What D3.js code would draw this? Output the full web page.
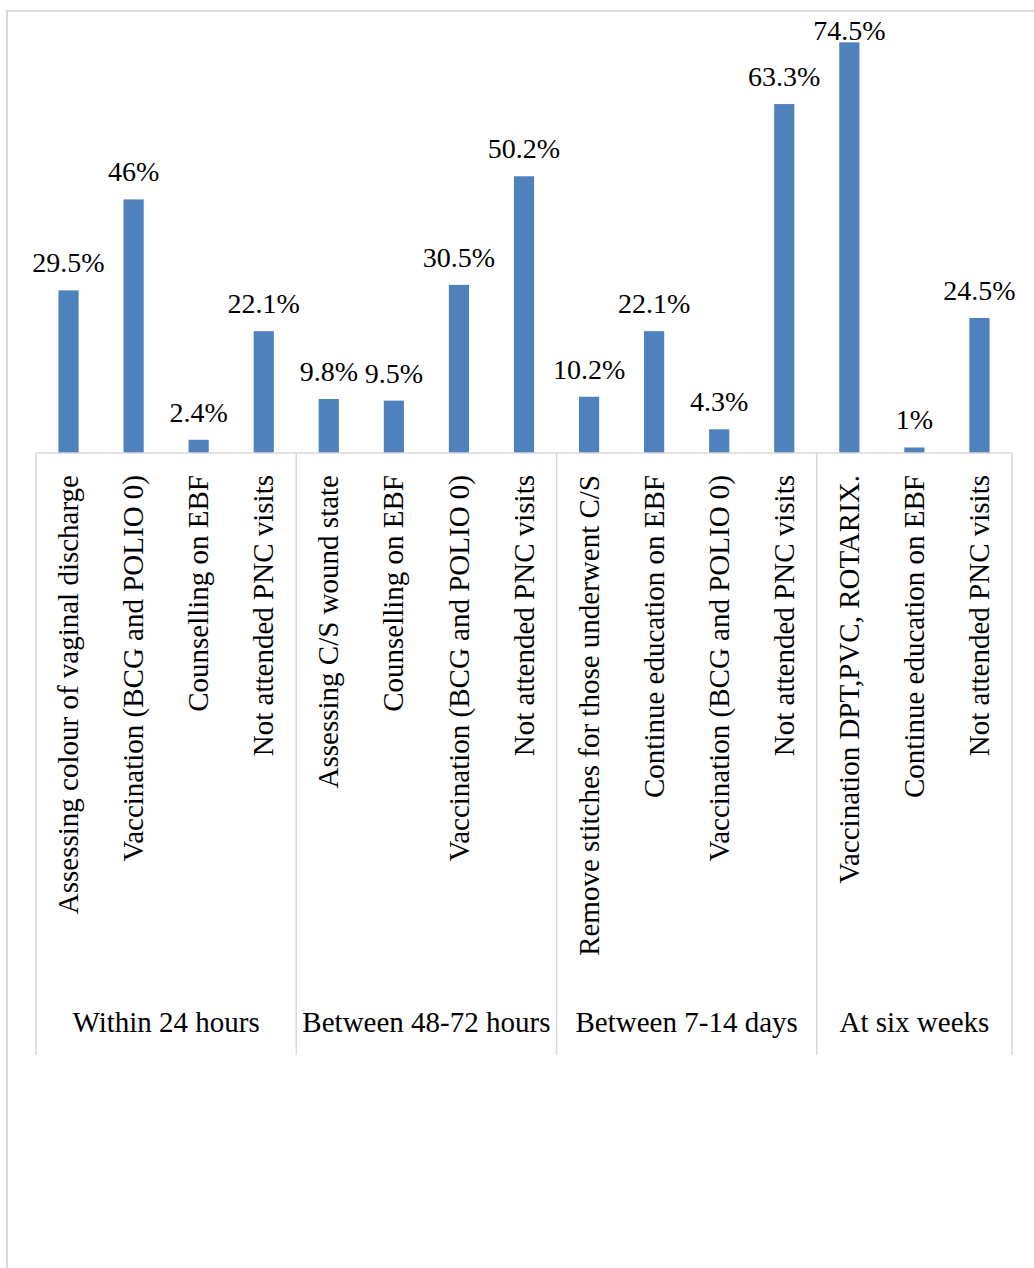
<!DOCTYPE html>
<html>
<head>
<meta charset="utf-8">
<script src="https://cdn.jsdelivr.net/npm/d3@7"></script>
<style>
body { margin: 0; background: #fff; }
.lbl { font-family: 'Liberation Serif' !important; fill: #000; }
</style>
</head>
<body>
<script>
var groupNames = ["Within 24 hours", "Between 48-72 hours", "Between 7-14 days", "At six weeks"];
var groupSizes = [4, 4, 4, 3];
var itemLabels = [
  "Assessing colour of vaginal discharge", "Vaccination (BCG and POLIO 0)", "Counselling on EBF", "Not attended PNC visits",
  "Assessing C/S wound state", "Counselling on EBF", "Vaccination (BCG and POLIO 0)", "Not attended PNC visits",
  "Remove stitches  for those underwent C/S", "Continue education on EBF", "Vaccination (BCG and POLIO 0)", "Not attended PNC visits",
  "Vaccination DPT,PVC, ROTARIX.", "Continue education on EBF", "Not attended PNC visits"
];
var values = [29.5, 46, 2.4, 22.1, 9.8, 9.5, 30.5, 50.2, 10.2, 22.1, 4.3, 63.3, 74.5, 1, 24.5];
var valueLabels = ["29.5%", "46%", "2.4%", "22.1%", "9.8%", "9.5%", "30.5%", "50.2%", "10.2%", "22.1%", "4.3%", "63.3%", "74.5%", "1%", "24.5%"];

var W = 1034, H = 1268;
var plotLeft = 36, plotRight = 1012, plotBase = 453, plotTop = 12, sepBottom = 1055;

var svg = d3.select("body").append("svg")
  .attr("width", W)
  .attr("height", H);

// chart frame
svg.append("rect")
  .attr("x", 7).attr("y", 11)
  .attr("width", W + 20).attr("height", H + 20)
  .attr("fill", "none")
  .attr("stroke", "#d9d9d9")
  .attr("stroke-width", 2);

var xScale = d3.scaleBand()
  .domain(d3.range(values.length))
  .range([plotLeft, plotRight])
  .paddingInner(0.69)
  .paddingOuter(0.345);

var yScale = d3.scaleLinear().domain([0, 80]).range([plotBase, plotTop]);

// bars
svg.selectAll(".bar")
  .data(values)
  .enter().append("rect")
  .attr("class", "bar")
  .attr("x", function(d, i) { return xScale(i); })
  .attr("y", function(d) { return yScale(d); })
  .attr("width", xScale.bandwidth())
  .attr("height", function(d) { return yScale(0) - yScale(d); })
  .attr("fill", "#4f81bd");

// value labels (clamped below the frame top like the original)
svg.selectAll(".vlab")
  .data(values)
  .enter().append("text")
  .attr("class", "vlab lbl")
  .attr("x", function(d, i) { return xScale(i) + xScale.bandwidth() / 2; })
  .attr("y", function(d) { return Math.max(yScale(d) - 18, 40); })
  .attr("text-anchor", "middle")
  .attr("font-size", 28)
  .text(function(d, i) { return valueLabels[i]; });

// x axis (items)
var xAxis = d3.axisBottom(xScale)
  .tickSize(0)
  .tickFormat(function(i) { return itemLabels[i]; });

var axisG = svg.append("g")
  .attr("transform", "translate(0," + plotBase + ")")
  .call(xAxis)
  .attr("font-family", "Liberation Serif")
  .attr("font-size", 29);

axisG.select(".domain").remove();
axisG.selectAll("text")
  .attr("class", "lbl")
  .attr("x", 0)
  .attr("y", 0)
  .attr("dy", "0.33em")
  .attr("text-anchor", "end")
  .attr("transform", "translate(0,22) rotate(-90)");

svg.append("line")
  .attr("x1", plotLeft).attr("x2", plotRight)
  .attr("y1", plotBase).attr("y2", plotBase)
  .attr("stroke", "#d9d9d9")
  .attr("stroke-width", 1.5);

// group separators and labels
var starts = [0];
groupSizes.forEach(function(n, i) { starts.push(starts[i] + n); });

function edge(k) {
  return k < values.length ? xScale(k) - xScale.step() * xScale.paddingOuter() : plotRight;
}

svg.selectAll(".sep")
  .data(starts)
  .enter().append("line")
  .attr("class", "sep")
  .attr("x1", edge)
  .attr("x2", edge)
  .attr("y1", plotBase)
  .attr("y2", sepBottom)
  .attr("stroke", "#d9d9d9")
  .attr("stroke-width", 1.5);

svg.selectAll(".glab")
  .data(groupNames)
  .enter().append("text")
  .attr("class", "glab lbl")
  .attr("x", function(d, i) { return (edge(starts[i]) + edge(starts[i + 1])) / 2; })
  .attr("y", 1032)
  .attr("text-anchor", "middle")
  .attr("font-size", 29)
  .text(function(d) { return d; });
</script>
</body>
</html>
